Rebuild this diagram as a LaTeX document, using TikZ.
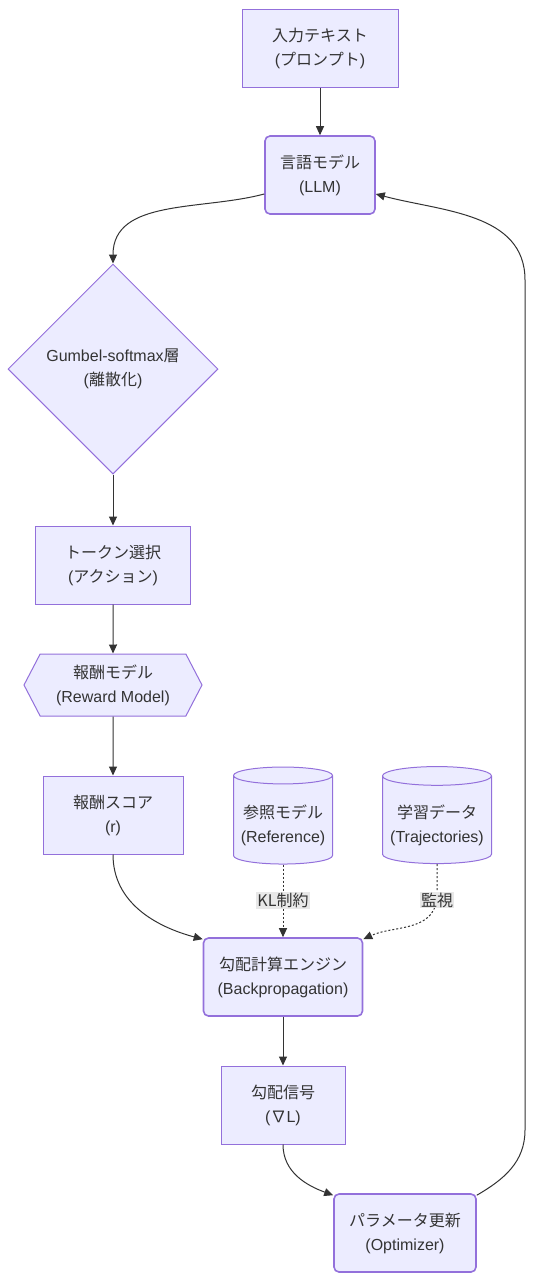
\documentclass[tikz,border=0pt]{standalone}
\usepackage{fontspec}
\setmainfont{Liberation Sans}
\newfontfamily\jpfont{Noto Sans CJK JP}
\newcommand{\jp}[1]{{\jpfont #1}}
\usetikzlibrary{arrows.meta,shapes.geometric,shapes.symbols}
\definecolor{boxfill}{HTML}{ECECFF}
\definecolor{boxline}{HTML}{9370DB}
\definecolor{ink}{HTML}{333333}
\definecolor{lblbg}{HTML}{E8E8E8}

\begin{document}
\begin{tikzpicture}[x=1pt,y=-1pt,
   font=\fontsize{16}{24}\selectfont,
   every node/.style={text=ink,align=center,inner sep=0pt},
   box/.style={draw=boxline,fill=boxfill,line width=1pt,minimum height=78pt},
   rbox/.style={box,line width=1.6pt,rounded corners=5pt},
   dia/.style={box,diamond,minimum width=210pt,minimum height=210pt},
   hex/.style={box,signal,signal to=west and east,signal pointer angle=125,minimum width=178pt,minimum height=62pt},
   db/.style={box,cylinder,shape border rotate=90,aspect=0.2,minimum width=99pt,minimum height=97pt,
     execute at begin node={\rule{0pt}{48pt}}},
   flow/.style={-{Triangle[length=9pt,width=8pt]},ink,line width=1pt},
   dotflow/.style={flow,dash pattern=on 2pt off 2pt},
   lbl/.style={fill=lblbg,inner sep=1pt}]
\useasboundingbox (0,0) rectangle (534,1280);

\node[box,minimum width=156pt] (inp) at (320,48) {\jp{入力テキスト}\\(\jp{プロンプト})};
\node[rbox,minimum width=110pt] (llm) at (320,175) {\jp{言語モデル}\\(LLM)};
\node[dia] (gum) at (113,369) {Gumbel-softmax\jp{層}\\(\jp{離散化})};
\node[box,minimum width=155pt] (tok) at (113,565) {\jp{トークン選択}\\(\jp{アクション})};
\node[hex] (rwd) at (113,685) {\jp{報酬モデル}\\(Reward Model)};
\node[box,minimum width=140pt] (scr) at (113,815) {\jp{報酬スコア}\\(r)};
\node[db] (ref) at (283,820) {\jp{参照モデル}\\(Reference)};
\node[db,minimum width=109pt] (dat) at (437,820) {\jp{学習データ}\\(Trajectories)};
\node[rbox,minimum width=159pt] (eng) at (283,977) {\jp{勾配計算エンジン}\\(Backpropagation)};
\node[box,minimum width=124pt] (sig) at (283,1105) {\jp{勾配信号}\\(\jp{∇}L)};
\node[rbox,minimum width=142pt] (opt) at (405,1233) {\jp{パラメータ更新}\\(Optimizer)};

\coordinate (up) at (525,1130);
\coordinate (top) at (525,280);
\coordinate (bend) at (437,900);

\draw[flow] (inp) -- (llm);
\draw[flow] ([yshift=-19pt]llm.west) to[out=195,in=90] (gum.north);
\draw[flow] (gum) -- (tok);
\draw[flow] (tok) -- (rwd);
\draw[flow] (rwd) -- (scr);
\draw[flow] (scr.south) to[out=-90,in=165] ([yshift=-2pt]eng.north west);
\draw[dotflow] (ref) -- node[lbl] {\jp{KL制約}} (eng);
\draw[dotflow] (dat.south) -- (bend) node[lbl] {\jp{監視}} to[out=-100,in=25] ([yshift=-2pt]eng.north east);
\draw[flow] (eng) -- (sig);
\draw[flow] (sig.south) to[out=-90,in=160] ([yshift=-2pt]opt.north west);
\draw[flow] ([yshift=-2pt]opt.north east) to[out=30,in=-90] (up) -- (top) to[out=90,in=-15] ([yshift=-19pt]llm.east);
\end{tikzpicture}
\end{document}
